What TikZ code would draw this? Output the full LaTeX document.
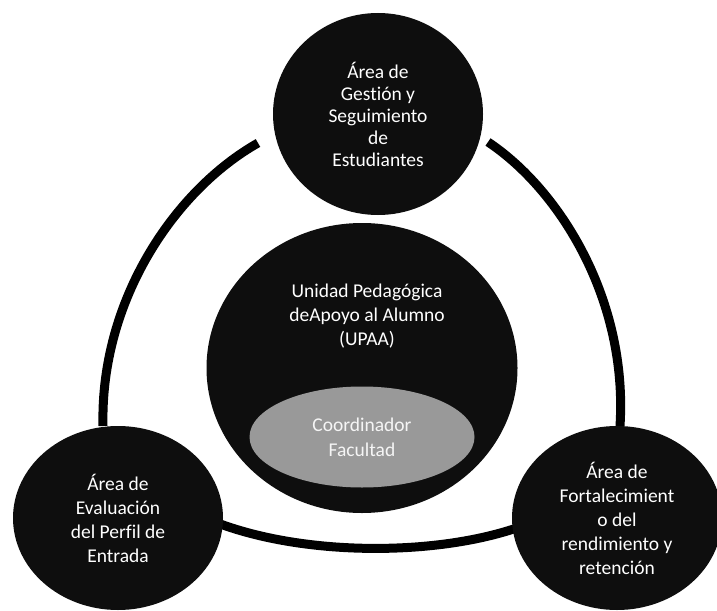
\documentclass[tikz,border=0pt]{standalone}
\usepackage{fontspec}
\setmainfont[Ligatures=NoCommon]{Carlito}
\usetikzlibrary{shapes.geometric}
\definecolor{disc}{HTML}{0E0E0E}
\definecolor{coord}{HTML}{999999}
\tikzset{
  ring/.style={line width=9pt, draw=black},
  area/.style={ellipse, fill=disc, text=white, align=center, inner sep=0pt,
    font=\fontsize{19.5pt}{24pt}\selectfont},
  coordbox/.style={ellipse, fill=coord, text=white!92!gray, align=center, inner sep=0pt,
    font=\fontsize{19.5pt}{25pt}\selectfont}
}
\begin{document}
\begin{tikzpicture}[x=1pt,y=-1pt]
\useasboundingbox (0,0) rectangle (717,610);
% ring endpoints
\coordinate (la) at (258,143);
\coordinate (lb) at (103,426);
\coordinate (ra) at (488,142);
\coordinate (rb) at (620,426);
\coordinate (ba) at (210,520);
\coordinate (bb) at (525,525);
\draw[ring] (la) .. controls (175,190) and (100,300) .. (lb);
\draw[ring] (ra) .. controls (560,190) and (628,300) .. (rb);
\draw[ring] (ba) .. controls (300,557) and (440,557) .. (bb);
% circles
\node[area, minimum width=210pt, minimum height=202pt,
  font=\fontsize{19.5pt}{22pt}\selectfont] (top) at (378,114)
  {Área de\\Gestión y\\Seguimiento\\de\\Estudiantes};
\node[area, minimum width=311pt, minimum height=290pt] (mid) at (362,368) {};
\node[align=center, text=white, font=\fontsize{19.5pt}{24pt}\selectfont] (midtext) at (367,316)
  {Unidad Pedagógica\\deApoyo al Alumno\\(UPAA)};
\node[coordbox, minimum width=225pt, minimum height=101pt] (coord) at (362,437)
  {Coordinador\\Facultad};
\node[area, minimum width=210pt, minimum height=184pt] (bl) at (118,518)
  {Área de\\Evaluación\\del Perfil de\\Entrada};
\node[area, minimum width=210pt, minimum height=184pt] (br) at (617,518)
  {Área de\\Fortalecimient\\o del\\rendimiento y\\retención};
\end{tikzpicture}
\end{document}
